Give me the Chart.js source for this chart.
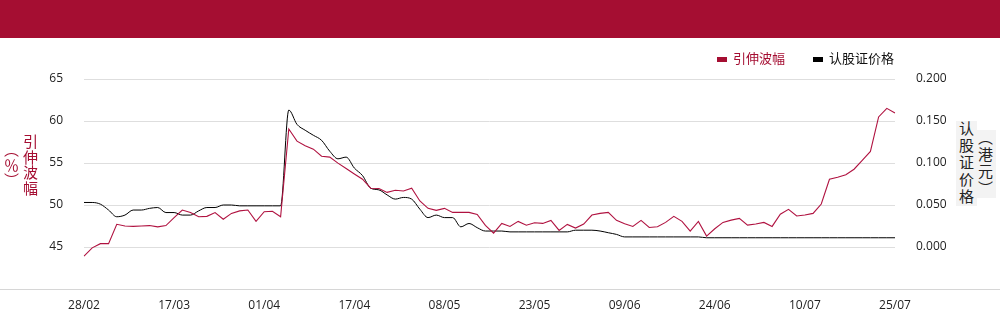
<!DOCTYPE html>
<html>
<head>
<meta charset="utf-8">
<script src="https://cdn.jsdelivr.net/npm/chart.js@4/dist/chart.umd.min.js"></script>
<style>
html, body { margin: 0; padding: 0; background: #fff; }
body { width: 1000px; height: 324px; position: relative; overflow: hidden; font-family: 'Open Sans', 'Noto Sans CJK SC', sans-serif; }
#band { position: absolute; left: 0; top: 0; width: 1000px; height: 38px; background: #a50e32; }
#base { position: absolute; left: 0; top: 289px; width: 1000px; height: 1px; background: #d6d6d6; }
#chart { position: absolute; left: 0; top: 0; }
.legend { position: absolute; top: 49px; left: 717px; display: flex; align-items: center; font-family: 'Noto Sans CJK SC', sans-serif; font-size: 13px; line-height: 18px; }
.legend .box { display: inline-block; width: 10px; height: 5px; margin-right: 6px; margin-top: 3px; }
.legend .item { display: flex; align-items: center; margin-right: 28px; }
.legend .item:last-child { margin-right: 0; }
.ytitle { position: absolute; font-family: 'Noto Sans CJK SC', sans-serif; font-size: 15px; line-height: 19px; text-align: center; }
#rtitle span { background: #f3f3f3; }
#ltitle { writing-mode: vertical-rl; left: 2px; top: 133px; width: 38px; height: 64px; color: #a50e32; letter-spacing: 0.5px; }
#rtitle { writing-mode: vertical-lr; left: 957px; top: 119px; width: 38px; height: 89px; color: #222; letter-spacing: 2px; }
</style>
</head>
<body>
<canvas id="chart" width="1000" height="324"></canvas>
<div id="band"></div>
<div id="base"></div>
<div class="legend">
  <div class="item" style="color:#a50e32"><span class="box" style="background:#a50e32"></span>引伸波幅</div>
  <div class="item" style="color:#111"><span class="box" style="background:#000"></span>认股证价格</div>
</div>
<div class="ytitle" id="ltitle"><span>引伸波幅</span><br><span>（％）</span></div>
<div class="ytitle" id="rtitle"><span>认股证价格</span><br><span>（港元）</span></div>
<script>
// trading days shown on the x axis
var dates = ["28/02","03/03","04/03","05/03","06/03","07/03","10/03","11/03","12/03","13/03",
	"14/03","17/03","18/03","19/03","20/03","21/03","24/03","25/03","26/03","27/03",
	"28/03","31/03","01/04","02/04","03/04","07/04","08/04","09/04","10/04","11/04",
	"14/04","15/04","16/04","17/04","22/04","23/04","24/04","25/04","28/04","29/04",
	"30/04","02/05","06/05","07/05","08/05","09/05","12/05","13/05","14/05","15/05",
	"16/05","19/05","20/05","21/05","22/05","23/05","26/05","27/05","28/05","29/05",
	"30/05","02/06","03/06","04/06","05/06","06/06","09/06","10/06","11/06","12/06",
	"13/06","16/06","17/06","18/06","19/06","20/06","23/06","24/06","25/06","26/06",
	"27/06","30/06","02/07","03/07","04/07","07/07","08/07","09/07","10/07","11/07",
	"14/07","15/07","16/07","17/07","18/07","21/07","22/07","23/07","24/07","25/07"];

var tickDates = ["28/02","17/03","01/04","17/04","08/05","23/05","09/06","24/06","10/07","25/07"];

// 引伸波幅 (%), left axis
var volatility = [43.9,44.9,45.4,45.4,47.7,47.5,47.45,47.5,47.55,47.4,
	47.55,48.5,49.4,49.1,48.6,48.65,49.1,48.3,49.0,49.3,
	49.4,48.05,49.2,49.25,48.6,59.05,57.6,57.05,56.65,55.8,
	55.7,54.98,54.34,53.7,53.07,52.0,51.96,51.5,51.75,51.67,
	52.0,50.48,49.6,49.36,49.6,49.12,49.12,49.12,48.88,47.57,
	46.65,47.81,47.45,48.05,47.6,47.89,47.81,48.17,46.97,47.69,
	47.25,47.73,48.8,49.0,49.12,48.17,47.77,47.45,48.17,47.33,
	47.41,47.93,48.65,48.05,46.89,48.05,46.3,47.17,47.93,48.2,
	48.4,47.6,47.73,47.93,47.45,48.9,49.48,48.69,48.8,49.0,
	50.12,53.07,53.3,53.6,54.26,55.3,56.37,60.48,61.51,60.96];

// 认股证价格 (港元), right axis
var warrantPrice = [0.053,0.053,0.051,0.044,0.036,0.038,0.044,0.044,0.046,0.047,
	0.041,0.041,0.038,0.038,0.043,0.047,0.047,0.050,0.050,0.049,
	0.049,0.049,0.049,0.049,0.049,0.163,0.146,0.139,0.133,0.127,
	0.114,0.105,0.107,0.094,0.085,0.070,0.068,0.062,0.057,0.059,
	0.057,0.045,0.035,0.038,0.035,0.035,0.024,0.028,0.023,0.019,
	0.019,0.019,0.018,0.018,0.018,0.018,0.018,0.018,0.018,0.018,
	0.020,0.020,0.020,0.019,0.017,0.015,0.012,0.012,0.012,0.012,
	0.012,0.012,0.012,0.012,0.012,0.012,0.011,0.011,0.011,0.011,
	0.011,0.011,0.011,0.011,0.011,0.011,0.011,0.011,0.011,0.011,
	0.011,0.011,0.011,0.011,0.011,0.011,0.011,0.011,0.011,0.011];

var red = "#b01240";
var tickFont = { family: "'Open Sans', sans-serif", size: 12 };

var chart = new Chart(document.getElementById("chart"), {
	type: 'line',
	data: {
		labels: dates,
		datasets: [
			{
				label: "引伸波幅",
				data: volatility,
				yAxisID: 'y',
				borderColor: red,
				backgroundColor: red,
				borderWidth: 1.1,
				pointRadius: 0,
				tension: 0
			},
			{
				label: "认股证价格",
				data: warrantPrice,
				yAxisID: 'y1',
				borderColor: "#000",
				backgroundColor: "#000",
				borderWidth: 1,
				pointRadius: 0,
				cubicInterpolationMode: 'monotone'
			}
		]
	},
	options: {
		responsive: false,
		animation: false,
		devicePixelRatio: 1,
		layout: { padding: { top: 79, left: 0, right: 0, bottom: 0 } },
		plugins: {
			legend: { display: false },
			tooltip: { enabled: false }
		},
		scales: {
			x: {
				grid: { display: false },
				border: { display: false },
				ticks: {
					autoSkip: false,
					maxRotation: 0,
					padding: 1,
					color: "#222",
					font: tickFont,
					callback: function (val, idx) {
						return tickDates.indexOf(dates[idx]) >= 0 ? dates[idx] : null;
					}
				},
				afterFit: function (s) { s.height = 35; }
			},
			y: {
				position: 'left',
				min: 40,
				max: 65,
				ticks: {
					stepSize: 5,
					padding: 21,
					color: "#222",
					font: tickFont,
					callback: function (v) { return v === 40 ? '' : v; }
				},
				grid: {
					drawTicks: false,
					color: function (c) { return c.tick && c.tick.value === 40 ? 'transparent' : '#dedede'; }
				},
				border: { display: false },
				afterFit: function (s) { s.width = 84; }
			},
			y1: {
				position: 'right',
				min: -0.05,
				max: 0.2,
				ticks: {
					stepSize: 0.05,
					padding: 21,
					color: "#222",
					font: tickFont,
					callback: function (v) { return v < -0.01 ? '' : v.toFixed(3); }
				},
				grid: { drawOnChartArea: false, drawTicks: false },
				border: { display: false },
				afterFit: function (s) { s.width = 105; }
			}
		}
	}
});
</script>
</body>
</html>
